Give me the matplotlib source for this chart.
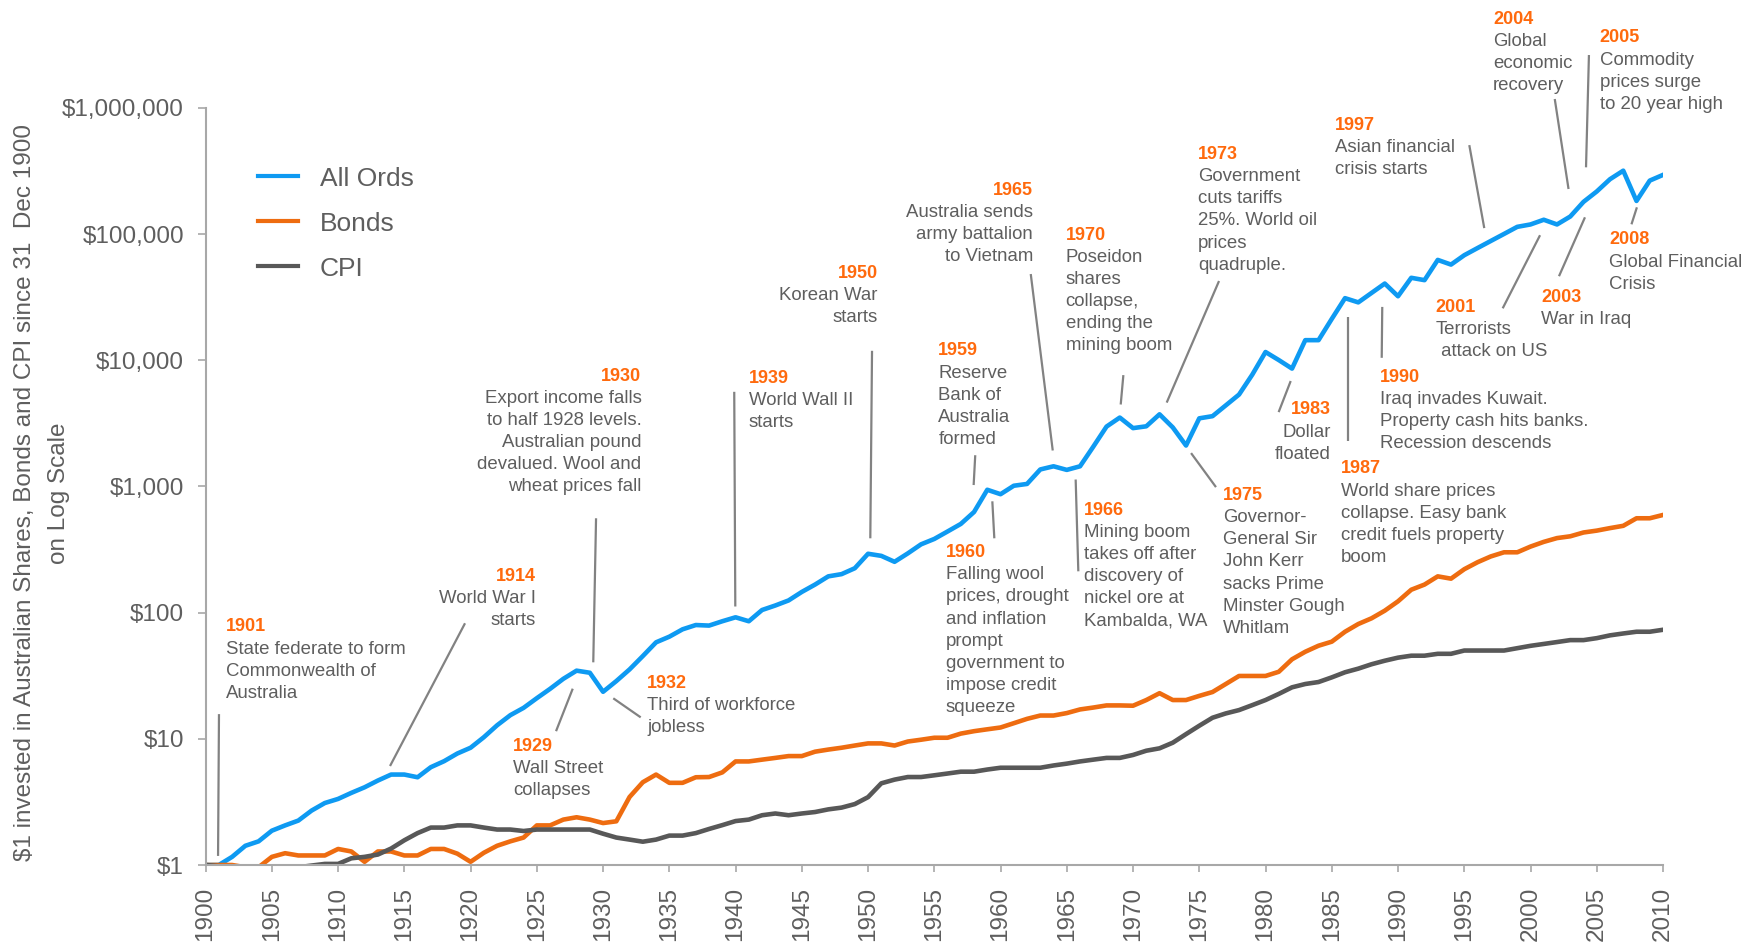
import numpy as np
import matplotlib
matplotlib.use('Agg')
from matplotlib import pyplot as plt
from matplotlib.ticker import NullLocator
from matplotlib.lines import Line2D

plt.rcParams['font.family'] = ['Liberation Sans', 'DejaVu Sans']

############## DATA ################

years = np.arange(1900, 2011)

# value of $1 invested at 31 Dec 1900
all_ords = [
    1.0, 1.0, 1.16, 1.42, 1.54, 1.87, 2.06, 2.25, 2.70, 3.10,
    3.34, 3.73, 4.13, 4.67, 5.21, 5.21, 4.96, 5.96, 6.65, 7.65,
    8.5, 10.3, 12.8, 15.4, 17.6, 21.0, 24.9, 29.9, 34.7, 33.4,
    23.6, 28.7, 35.5, 45.3, 58.2, 64.5, 73.8, 79.8, 79.0, 85.5,
    91.9, 85.5, 105, 114, 125, 146, 167, 194, 202, 225,
    293, 282, 253, 295, 348, 384, 440, 505, 628, 942,
    869, 1014, 1048, 1365, 1446, 1354, 1446, 2069, 2985, 3519,
    2902, 3000, 3734, 2940, 2113, 3470, 3610, 4395, 5354, 7700,
    11640, 10050, 8600, 14450, 14450, 21300, 31100, 28800, 34200, 40600,
    32200, 45100, 43200, 62500, 57400, 68100, 77600, 88300, 100400, 114300,
    119400, 130100, 119400, 138000, 180300, 218000, 272700, 318600, 183400, 265800,
    295000,
]

bonds = [
    1.0, 1.0, 1.0, 0.96, 0.96, 1.16, 1.24, 1.19, 1.19, 1.19,
    1.34, 1.28, 1.06, 1.28, 1.28, 1.19, 1.19, 1.34, 1.34, 1.23,
    1.06, 1.25, 1.42, 1.54, 1.65, 2.06, 2.06, 2.29, 2.39, 2.29,
    2.15, 2.22, 3.46, 4.53, 5.21, 4.48, 4.48, 4.96, 4.98, 5.42,
    6.62, 6.62, 6.84, 7.06, 7.3, 7.3, 7.91, 8.22, 8.5, 8.85,
    9.2, 9.2, 8.85, 9.52, 9.84, 10.2, 10.2, 11.0, 11.5, 11.9,
    12.3, 13.3, 14.4, 15.3, 15.3, 16.0, 17.1, 17.7, 18.4, 18.4,
    18.3, 20.3, 23.0, 20.3, 20.3, 21.9, 23.5, 27.2, 31.5, 31.5,
    31.5, 34.0, 42.7, 49.0, 54.7, 58.9, 70.6, 81.3, 90.2, 103.7,
    123, 152, 167, 194, 186, 221, 251, 279, 301, 301,
    334, 364, 390, 403, 432, 447, 468, 488, 560, 560,
    595,
]

cpi = [
    1.0, 0.98, 0.96, 0.93, 0.9, 0.9, 0.92, 0.96, 0.99, 1.02,
    1.02, 1.13, 1.16, 1.21, 1.35, 1.57, 1.79, 1.98, 1.98, 2.06,
    2.06, 1.98, 1.91, 1.91, 1.86, 1.91, 1.91, 1.91, 1.91, 1.91,
    1.77, 1.65, 1.59, 1.53, 1.59, 1.71, 1.71, 1.79, 1.93, 2.07,
    2.23, 2.29, 2.48, 2.56, 2.48, 2.56, 2.63, 2.76, 2.85, 3.04,
    3.45, 4.44, 4.75, 4.98, 4.98, 5.14, 5.31, 5.49, 5.49, 5.71,
    5.9, 5.9, 5.9, 5.9, 6.15, 6.36, 6.62, 6.84, 7.06, 7.06,
    7.45, 8.05, 8.41, 9.32, 10.9, 12.7, 14.7, 15.9, 16.9, 18.5,
    20.3, 22.7, 25.6, 27.2, 28.2, 30.7, 33.7, 36.0, 39.0, 41.6,
    44.0, 45.6, 45.6, 47.2, 47.2, 50.1, 50.1, 50.1, 50.1, 52.3,
    54.6, 56.5, 58.5, 60.6, 60.6, 62.8, 66.1, 68.4, 70.6, 70.6,
    73.2,
]

series_names = ['All Ords', 'Bonds', 'CPI']

ytick_values = [1, 10, 100, 1000, 10000, 100000, 1000000]
ytick_labels = ['$1', '$10', '$100', '$1,000', '$10,000', '$100,000', '$1,000,000']
xtick_values = list(range(1900, 2011, 5))

# (year, text, alignment, text anchor (year, value), leader line ends)
events = [
    ('1901', 'State federate to form\nCommonwealth of\nAustralia', 'left',
     (1901.52, 90.2), ((1901.01, 15.7), (1900.94, 1.18))),
    ('1914', 'World War I\nstarts', 'right',
     (1924.92, 227), ((1919.58, 82.4), (1913.92, 6.09))),
    ('1929', 'Wall Street\ncollapses', 'left',
     (1923.22, 10.2), ((1927.71, 24.97), (1926.45, 11.5))),
    ('1930', 'Export income falls\nto half 1928 levels.\nAustralian pound\n'
             'devalued. Wool and\nwheat prices fall', 'right',
     (1932.90, 8740), ((1929.47, 560), (1929.26, 40.4))),
    ('1932', 'Third of workforce\njobless', 'left',
     (1933.34, 32.1), ((1930.77, 20.95), (1932.84, 14.8))),
    ('1939', 'World Wall II\nstarts', 'left',
     (1941.01, 8380), ((1939.90, 5630), (1939.98, 111.9))),
    ('1950', 'Korean War\nstarts', 'right',
     (1950.73, 56950), ((1950.30, 11900), (1950.17, 388.5))),
    ('1959', 'Reserve\nBank of\nAustralia\nformed', 'left',
     (1955.30, 13870), ((1958.09, 1770), (1957.97, 1027))),
    ('1960', 'Falling wool\nprices, drought\nand inflation\nprompt\n'
             'government to\nimpose credit\nsqueeze', 'left',
     (1955.86, 349.4), ((1959.38, 763), (1959.53, 388.5))),
    ('1965', 'Australia sends\narmy battalion\nto Vietnam', 'right',
     (1962.45, 260400), ((1962.28, 48310), (1963.94, 1929))),
    ('1966', 'Mining boom\ntakes off after\ndiscovery of\nnickel ore at\nKambalda, WA', 'left',
     (1966.30, 757.6), ((1965.67, 1136), (1965.87, 212.7))),
    ('1970', 'Poseidon\nshares\ncollapse,\nending the\nmining boom', 'left',
     (1964.91, 114600), ((1969.27, 7636), (1969.07, 4466))),
    ('1973', 'Government\ncuts tariffs\n25%. World oil\nprices\nquadruple.', 'left',
     (1974.92, 499600), ((1976.49, 42530), (1972.54, 4624))),
    ('1975', 'Governor-\nGeneral Sir\nJohn Kerr\nsacks Prime\nMinster Gough\nWhitlam', 'left',
     (1976.77, 990.6), ((1974.38, 1840), (1976.26, 988.9))),
    ('1983', 'Dollar\nfloated', 'right',
     (1984.92, 4743), ((1981.90, 6855), (1980.99, 3887))),
    ('1987', 'World share prices\ncollapse. Easy bank\ncredit fuels property\nboom', 'left',
     (1985.67, 1616), ((1986.25, 21930), (1986.25, 2281))),
    ('1990', 'Iraq invades Kuwait.\nProperty cash hits banks.\nRecession descends', 'left',
     (1988.64, 8584), ((1988.81, 26510), (1988.77, 10470))),
    ('1997', 'Asian financial\ncrisis starts', 'left',
     (1985.25, 853000), ((1995.38, 507900), (1996.51, 111700))),
    ('2001', 'Terrorists\n attack on US', 'left',
     (1992.84, 30680), ((2000.72, 98100), (1997.90, 25840))),
    ('2003', 'War in Iraq', 'left',
     (2000.79, 37090), ((2004.11, 136000), (2002.15, 46430))),
    ('2004', 'Global\neconomic\nrecovery', 'left',
     (1997.18, 5869000), ((2001.83, 1178000), (2002.87, 228000))),
    ('2005', 'Commodity\nprices surge\nto 20 year high', 'left',
     (2005.21, 4203000), ((2004.41, 2630000), (2004.19, 338700))),
    ('2008', 'Global Financial\nCrisis', 'left',
     (2005.93, 105100), ((2008.03, 163200), (2007.62, 119700))),
]

############## STYLE ################

BLUE = '#0E9AF2'
ORANGE = '#EE6C10'
GREY = '#585858'
YEAR_COL = '#FF6A0D'
TEXT_COL = '#5E5E5E'
LEADER_COL = '#828282'
AXIS_COL = '#A8A8A8'

fig = plt.figure(figsize=(17.62, 9.43), dpi=100)
ax = fig.add_axes([205.6 / 1762, 78 / 943, 1457.4 / 1762, 757 / 943])

lines = []
for vals, color, name in zip([all_ords, bonds, cpi], [BLUE, ORANGE, GREY], series_names):
    line, = ax.plot(years, vals, color=color, linewidth=3.3, label=name)
    lines.append(line)

ax.set_yscale('log')
ax.set_xlim(1900, 2010)
ax.set_ylim(1, 1e6)

ax.set_yticks(ytick_values)
ax.set_yticklabels(ytick_labels)
ax.yaxis.set_minor_locator(NullLocator())
ax.set_xticks(xtick_values)
ax.set_xticklabels([str(x) for x in xtick_values], rotation=90)

for side in ['top', 'right']:
    ax.spines[side].set_visible(False)
for side in ['left', 'bottom']:
    ax.spines[side].set_color(AXIS_COL)
    ax.spines[side].set_linewidth(1.5)

ax.tick_params(axis='y', direction='out', length=5.8, width=1.2, color=AXIS_COL,
               labelsize=17.5, labelcolor=TEXT_COL, pad=9.8)
ax.tick_params(axis='x', direction='out', length=4.8, width=1.2, color=AXIS_COL,
               labelsize=17.5, labelcolor=TEXT_COL, pad=11)

fig.text(42 / 1762, 1 - 492.8 / 943,
         '$1 invested in Australian Shares, Bonds and CPI since 31  Dec 1900\non Log Scale',
         rotation=90, ha='center', va='center', multialignment='center',
         fontsize=17.5, color=TEXT_COL, linespacing=1.67)

leg_handles = [Line2D([0], [0], color=c, linewidth=3) for c in [BLUE, ORANGE, GREY]]
leg = ax.legend(leg_handles, series_names, loc='upper left',
                bbox_to_anchor=(258 / 1762, 1 - 166.5 / 943), bbox_transform=fig.transFigure,
                frameon=False, fontsize=19, handlelength=1.5, handletextpad=0.85,
                labelspacing=0.8, borderpad=0, borderaxespad=0)
for t in leg.get_texts():
    t.set_color(TEXT_COL)

# Event annotations: orange year, grey description, grey leader line
for label, body, ha, (tx, tv), (p0, p1) in events:
    ax.annotate(label, xy=(tx, tv), ha=ha, va='top', color=YEAR_COL,
                fontweight='bold', fontsize=13, annotation_clip=False)
    ax.annotate(body, xy=(tx, tv), xytext=(0, -22.3), textcoords='offset pixels',
                ha=ha, va='top', color=TEXT_COL, fontsize=13.4, linespacing=1.39,
                annotation_clip=False)
    ax.plot([p0[0], p1[0]], [p0[1], p1[1]], color=LEADER_COL, linewidth=1.6,
            clip_on=False, solid_capstyle='butt')

plt.savefig('out.png', dpi=100)
plt.close()
